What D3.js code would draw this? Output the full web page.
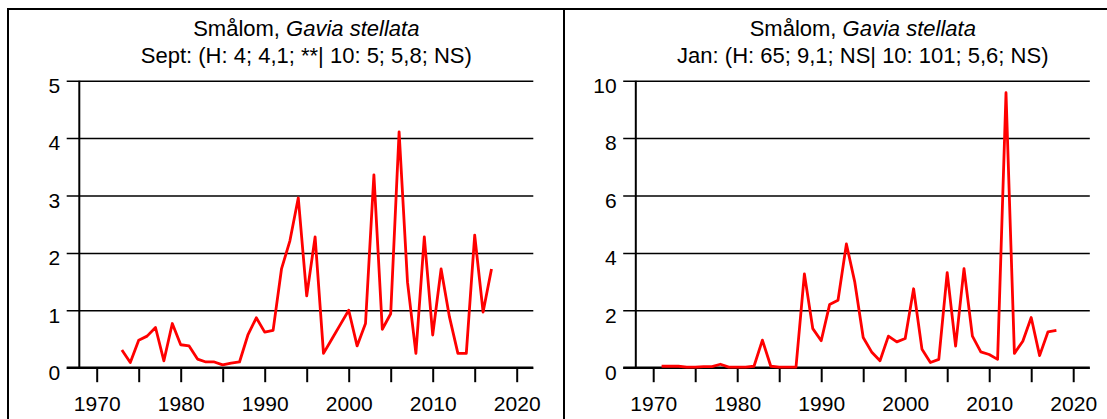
<!DOCTYPE html>
<html lang="sv">
<head>
  <meta charset="UTF-8">
  <title>Smålom, Gavia stellata</title>
  <script src="https://d3js.org/d3.v7.min.js"></script>
  <style>
    body { margin: 0; background: #fff; }
    svg { display: block; }
  </style>
</head>
<body>
  <script>
    // September counts, 1973-2017
    const septYears = d3.range(1973, 2018);
    const septValues = [
      0.31, 0.09, 0.48, 0.55, 0.70, 0.12, 0.77, 0.40, 0.38, 0.15,
      0.10, 0.10, 0.05, 0.08, 0.10, 0.57, 0.87, 0.62, 0.65, 1.72,
      2.21, 2.96, 1.25, 2.28, 0.25, 0.50, 0.75, 1.00, 0.38, 0.77,
      3.36, 0.67, 0.94, 4.11, 1.49, 0.25, 2.28, 0.57, 1.72, 0.88,
      0.25, 0.25, 2.31, 0.97, 1.72
    ];

    // January counts, 1971-2018
    const janYears = d3.range(1971, 2019);
    const janValues = [
      0.05, 0.05, 0.05, 0.02, 0.02, 0.04, 0.04, 0.12, 0.02, 0.02,
      0.02, 0.05, 0.96, 0.05, 0.02, 0.02, 0.02, 3.27, 1.36, 0.94,
      2.20, 2.35, 4.31, 2.98, 1.05, 0.55, 0.24, 1.10, 0.90, 1.02,
      2.75, 0.64, 0.18, 0.29, 3.31, 0.75, 3.45, 1.10, 0.55, 0.46,
      0.29, 9.58, 0.50, 0.92, 1.75, 0.42, 1.25, 1.30
    ];

    const xTicks = d3.range(1970, 2021, 5);
    const septYTicks = [0, 1, 2, 3, 4, 5];
    const janYTicks = [0, 2, 4, 6, 8, 10];

    const panels = [
      { offset: 0, lead: "Sept: (H: 4; 4,1; **| 10: 5; 5,8; NS)", years: septYears, values: septValues, yMax: 5, yTicks: septYTicks },
      { offset: 556.5, lead: "Jan: (H: 65; 9,1; NS| 10: 101; 5,6; NS)", years: janYears, values: janValues, yMax: 10, yTicks: janYTicks }
    ];

    const width = 1107, height = 419;
    const plotLeft = 79.3, plotRight = 533.3, plotTop = 80.7, plotBottom = 367.7;
    const font = "'Liberation Sans', Arial, sans-serif";

    const svg = d3.select("body").append("svg")
      .attr("width", width)
      .attr("height", height);

    // cell borders
    svg.append("line").attr("x1", 7).attr("x2", width).attr("y1", 9).attr("y2", 9)
      .attr("stroke", "#000").attr("stroke-width", 2);
    svg.append("line").attr("x1", 8).attr("x2", 8).attr("y1", 8).attr("y2", height)
      .attr("stroke", "#000").attr("stroke-width", 2);
    svg.append("line").attr("x1", 564).attr("x2", 564).attr("y1", 8).attr("y2", height)
      .attr("stroke", "#000").attr("stroke-width", 2);

    panels.forEach(p => {
      const g = svg.append("g").attr("transform", `translate(${p.offset},0)`);

      const x = d3.scaleLinear().domain([1970, 2020]).range([96.7, 516.7]);
      const y = d3.scaleLinear().domain([0, p.yMax]).range([plotBottom, plotTop]);

      // title
      const cx = (plotLeft + plotRight) / 2;
      const t1 = g.append("text")
        .attr("x", cx).attr("y", 36).attr("text-anchor", "middle")
        .attr("font-family", font).attr("font-size", 22);
      t1.append("tspan").text("Smålom, ");
      t1.append("tspan").attr("font-style", "italic").text("Gavia stellata");
      g.append("text")
        .attr("x", cx).attr("y", 63).attr("text-anchor", "middle")
        .attr("font-family", font).attr("font-size", 22)
        .text(p.lead);

      // y axis with gridlines
      const yAxis = g.append("g")
        .attr("transform", `translate(${plotLeft},0)`)
        .call(d3.axisLeft(y).tickValues(p.yTicks).tickFormat(d3.format("d"))
          .tickSize(12.6).tickPadding(6.5));
      yAxis.attr("font-family", font).attr("font-size", 21);
      yAxis.select(".domain").remove();
      yAxis.selectAll(".tick line").attr("stroke", "#000").attr("stroke-width", 1.5)
        .attr("x2", plotRight - plotLeft).attr("x1", -12.6);
      yAxis.selectAll(".tick text").attr("fill", "#000").attr("dy", null).attr("y", 11.7);

      g.append("line")
        .attr("x1", plotLeft).attr("x2", plotLeft)
        .attr("y1", plotTop).attr("y2", plotBottom)
        .attr("stroke", "#000").attr("stroke-width", 2);

      // x axis
      const xAxis = g.append("g")
        .attr("transform", `translate(0,${plotBottom})`)
        .call(d3.axisBottom(x).tickValues(xTicks).tickSize(14.5)
          .tickFormat(d => d % 10 === 0 ? d : ""));
      xAxis.attr("font-family", font).attr("font-size", 21);
      xAxis.select(".domain").remove();
      xAxis.selectAll(".tick line").attr("stroke", "#000").attr("stroke-width", 2);
      xAxis.selectAll(".tick text").attr("fill", "#000").attr("dy", null).attr("y", 43);
      g.append("line")
        .attr("x1", plotLeft - 12.6).attr("x2", plotRight)
        .attr("y1", plotBottom).attr("y2", plotBottom)
        .attr("stroke", "#000").attr("stroke-width", 2.2);

      // series
      const line = d3.line()
        .x((d, i) => x(p.years[i]))
        .y(d => y(d));
      g.append("path")
        .datum(p.values)
        .attr("fill", "none")
        .attr("stroke", "#ff0000")
        .attr("stroke-width", 2.8)
        .attr("stroke-linejoin", "round")
        .attr("d", line);
    });
  </script>
</body>
</html>
